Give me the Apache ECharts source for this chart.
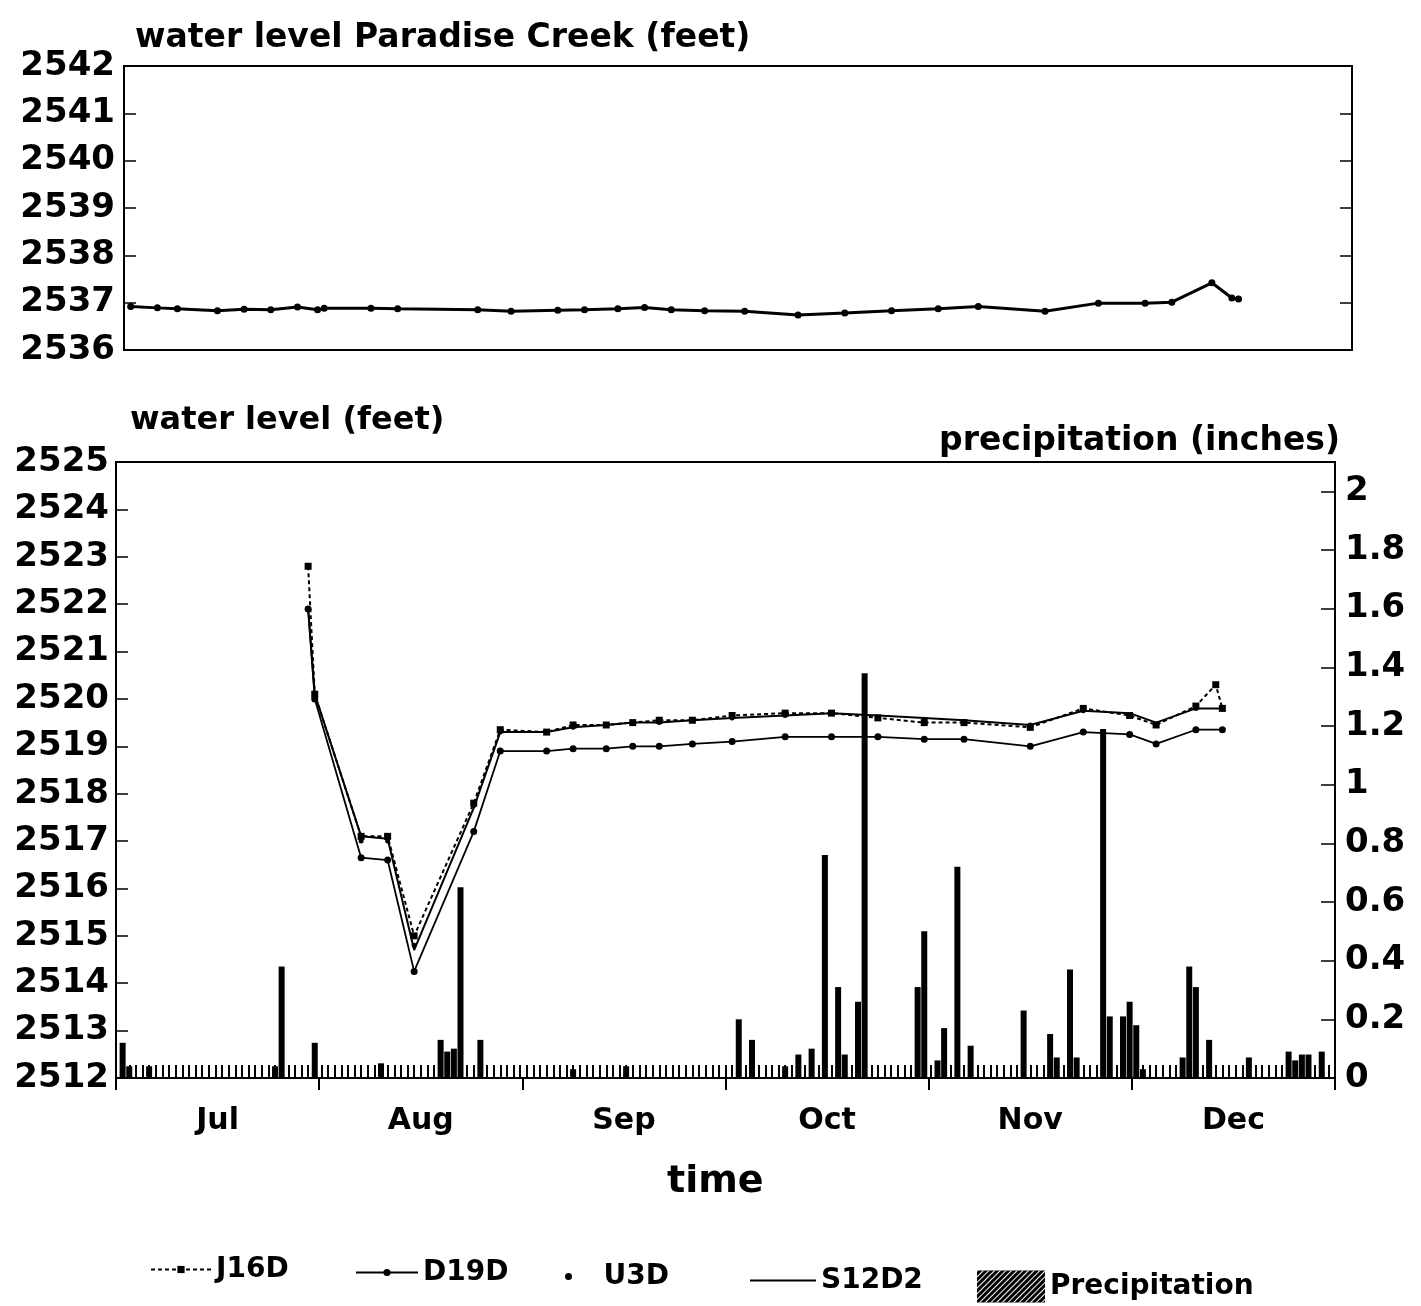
<!DOCTYPE html>
<html>
<head>
<meta charset="utf-8">
<script src="https://cdn.jsdelivr.net/npm/echarts@6/dist/echarts.min.js"></script>
<style>
  html, body { margin: 0; padding: 0; background: #fff; }
  #chart { width: 1421px; height: 1306px; }
</style>
</head>
<body>
<div id="chart"></div>
<script>
// days counted from 1 July (0 = start of July, 184 = end of December)
const months = ['Jul', 'Aug', 'Sep', 'Oct', 'Nov', 'Dec'];

// upper panel - Paradise Creek
const creekDays = [1, 5, 8, 14, 18, 22, 26, 29, 30, 37, 41, 53, 58, 65, 69, 74, 78, 82, 87, 93, 101, 108, 115, 122, 128, 138, 146, 153, 157, 163, 166, 167];
const creekLevel = [2536.92, 2536.89, 2536.87, 2536.83, 2536.86, 2536.85, 2536.91, 2536.85, 2536.88, 2536.88, 2536.87, 2536.85, 2536.82, 2536.84, 2536.85, 2536.87, 2536.9, 2536.85, 2536.83, 2536.82, 2536.74, 2536.78, 2536.83, 2536.87, 2536.92, 2536.82, 2536.99, 2536.99, 2537.01, 2537.42, 2537.1, 2537.08];

// lower panel - wells
const wellDays = [29, 30, 37, 41, 45, 54, 58, 65, 69, 74, 78, 82, 87, 93, 101, 108, 115, 122, 128, 138, 146, 153, 157, 163, 166, 167];
const j16d = [2522.8, 2520.1, 2517.1, 2517.1, 2515.0, 2517.8, 2519.35, 2519.3, 2519.45, 2519.45, 2519.5, 2519.55, 2519.55, 2519.65, 2519.7, 2519.7, 2519.6, 2519.5, 2519.5, 2519.4, 2519.8, 2519.65, 2519.45, 2519.85, 2520.3, 2519.8];
const d19d = [2521.9, 2520.0, 2516.65, 2516.6, 2514.25, 2517.2, 2518.9, 2518.9, 2518.95, 2518.95, 2519.0, 2519.0, 2519.05, 2519.1, 2519.2, 2519.2, 2519.2, 2519.15, 2519.15, 2519.0, 2519.3, 2519.25, 2519.05, 2519.35, null, 2519.35];
const u3d = [2521.9, 2520.0, 2517.0, 2517.0, 2514.8, 2517.75, 2519.3, 2519.3, 2519.4, 2519.45, 2519.5, 2519.5, 2519.55, 2519.6, 2519.65, 2519.7, 2519.6, 2519.55, 2519.5, 2519.45, 2519.75, 2519.65, 2519.45, 2519.8, null, 2519.8];
const s12d2 = [2521.9, 2520.1, 2517.1, 2517.05, 2514.7, 2517.7, 2519.3, 2519.3, 2519.4, 2519.45, 2519.5, 2519.5, 2519.55, 2519.6, 2519.65, 2519.7, 2519.65, 2519.6, 2519.55, 2519.45, 2519.75, 2519.7, 2519.5, 2519.8, null, 2519.8];

// precipitation (inches)
const rainDays = [1, 2, 5, 24, 25, 30, 40, 49, 50, 51, 52, 55, 69, 77, 94, 96, 101, 103, 105, 107, 109, 110, 112, 113, 121, 122, 124, 125, 127, 129, 137, 141, 142, 144, 145, 149, 150, 152, 153, 154, 155, 161, 162, 163, 165, 171, 177, 178, 179, 180, 182];
const rainInches = [0.12, 0.04, 0.04, 0.04, 0.38, 0.12, 0.05, 0.13, 0.09, 0.1, 0.65, 0.13, 0.03, 0.04, 0.2, 0.13, 0.04, 0.08, 0.1, 0.76, 0.31, 0.08, 0.26, 1.38, 0.31, 0.5, 0.06, 0.17, 0.72, 0.11, 0.23, 0.15, 0.07, 0.37, 0.07, 1.19, 0.21, 0.21, 0.26, 0.18, 0.03, 0.07, 0.38, 0.31, 0.13, 0.07, 0.09, 0.06, 0.08, 0.08, 0.09];

const pair = (xs, ys) => xs.map((x, i) => [x, ys[i]]);

const font = 'DejaVu Sans';
const ink = '#000';
const boldText = (size) => ({ color: ink, fontFamily: font, fontWeight: 'bold', fontSize: size });
const plain = v => String(Math.round(v * 10) / 10);

// one legend per entry so each can sit where the original puts it
const legendAt = (entry, left, cy, width, height) => ({
    data: [entry], left: left, top: cy - Math.max(height, 33) / 2,
    itemWidth: width, itemHeight: height,
    textStyle: boldText(28)
});

let chart = echarts.init(document.getElementById('chart'));

let option = {
    backgroundColor: '#fff',
    animation: false,
    title: [
        { text: 'water level Paradise Creek (feet)', left: 130, top: 17, textStyle: boldText(33) },
        { text: 'water level (feet)', left: 125, top: 400, textStyle: boldText(32) },
        { text: 'precipitation (inches)', right: 76, top: 420, textStyle: boldText(33) },
        { text: 'time', left: 662, top: 1158, textStyle: boldText(38) }
    ],
    legend: [
        legendAt('J16D', 145, 1267, 60, 9),
        legendAt('D19D', 350, 1270, 62, 9),
        legendAt('U3D', 560, 1274, 60, 7),
        legendAt({ name: 'S12D2', icon: 'path://M0,0 L10,0 L10,0.3 L0,0.3 Z' }, 745, 1278, 66, 9),
        legendAt({
            name: 'Precipitation', icon: 'rect',
            itemStyle: {
                color: ink,
                decal: { symbol: 'rect', dashArrayX: [1, 0], dashArrayY: [1, 3], rotation: -Math.PI / 4, color: '#fff' }
            }
        }, 972, 1282, 68, 32)
    ],
    grid: [
        { left: 124, top: 66, width: 1228, height: 284, show: true, borderColor: ink, borderWidth: 2 },
        { left: 116, top: 462, width: 1219, height: 616, show: true, borderColor: ink, borderWidth: 2 },
        { left: 116, top: 462, width: 1219, height: 616, show: false }
    ],
    xAxis: [
        {
            gridIndex: 0, type: 'value', min: 0, max: 184,
            axisLine: { show: false }, axisTick: { show: false }, axisLabel: { show: false }, splitLine: { show: false }
        },
        {
            gridIndex: 1, type: 'value', min: 0, max: 184, interval: 1,
            axisLine: { show: true, lineStyle: { color: ink, width: 2 } },
            axisTick: { show: true, inside: true, length: 13, lineStyle: { color: ink, width: 2 } },
            axisLabel: { show: false }, splitLine: { show: false }
        },
        {
            gridIndex: 2, type: 'category', data: months, boundaryGap: true,
            axisLine: { show: false },
            axisTick: { show: true, length: 12, lineStyle: { color: ink, width: 2 } },
            axisLabel: Object.assign({ margin: 28 }, boldText(30)),
            splitLine: { show: false }
        }
    ],
    yAxis: [
        {
            gridIndex: 0, type: 'value', min: 2536, max: 2542, interval: 1,
            axisLine: { show: true, lineStyle: { color: ink, width: 2 } },
            axisTick: { show: true, inside: true, length: 12, lineStyle: { color: ink, width: 1.5 } },
            axisLabel: Object.assign({ margin: 9, formatter: plain }, boldText(34)),
            splitLine: { show: false }
        },
        {
            gridIndex: 0, type: 'value', position: 'right', min: 2536, max: 2542, interval: 1,
            axisLine: { show: true, lineStyle: { color: ink, width: 2 } },
            axisTick: { show: true, inside: true, length: 12, lineStyle: { color: ink, width: 1.5 } },
            axisLabel: { show: false }, splitLine: { show: false }
        },
        {
            gridIndex: 1, type: 'value', min: 2512, max: 2525, interval: 1,
            axisLine: { show: true, lineStyle: { color: ink, width: 2 } },
            axisTick: { show: true, inside: true, length: 12, lineStyle: { color: ink, width: 1.5 } },
            axisLabel: Object.assign({ margin: 7, formatter: plain }, boldText(34)),
            splitLine: { show: false }
        },
        {
            gridIndex: 1, type: 'value', position: 'right', min: 0, max: 2.1, interval: 0.2,
            axisLine: { show: true, lineStyle: { color: ink, width: 2 } },
            axisTick: { show: true, inside: true, length: 14, lineStyle: { color: ink, width: 1.5 } },
            axisLabel: Object.assign({
                margin: 10, showMaxLabel: false,
                formatter: v => (v > 2.05 ? '' : plain(v))
            }, boldText(34)),
            splitLine: { show: false }
        },
        { gridIndex: 2, type: 'value', show: false }
    ],
    series: [
        {
            name: 'Paradise Creek', type: 'line', xAxisIndex: 0, yAxisIndex: 0,
            data: pair(creekDays, creekLevel),
            symbol: 'circle', symbolSize: 7,
            itemStyle: { color: ink }, lineStyle: { color: ink, width: 3 }
        },
        {
            name: 'Precipitation', type: 'bar', xAxisIndex: 1, yAxisIndex: 3,
            data: pair(rainDays, rainInches),
            barWidth: 6,
            itemStyle: { color: ink }
        },
        {
            name: 'S12D2', type: 'line', xAxisIndex: 1, yAxisIndex: 2,
            data: pair(wellDays, s12d2), connectNulls: true,
            symbol: 'none',
            itemStyle: { color: ink }, lineStyle: { color: ink, width: 2 }
        },
        {
            name: 'D19D', type: 'line', xAxisIndex: 1, yAxisIndex: 2,
            data: pair(wellDays, d19d), connectNulls: true,
            symbol: 'circle', symbolSize: 7,
            itemStyle: { color: ink }, lineStyle: { color: ink, width: 1.8 }
        },
        {
            name: 'J16D', type: 'line', xAxisIndex: 1, yAxisIndex: 2,
            data: pair(wellDays, j16d),
            symbol: 'rect', symbolSize: 7,
            itemStyle: { color: ink }, lineStyle: { color: ink, width: 2, type: [4, 3] }
        },
        {
            name: 'U3D', type: 'scatter', xAxisIndex: 1, yAxisIndex: 2,
            data: pair(wellDays, u3d),
            symbol: 'circle', symbolSize: 5,
            itemStyle: { color: ink, opacity: 1 }
        }
    ]
};

chart.setOption(option);
</script>
</body>
</html>
